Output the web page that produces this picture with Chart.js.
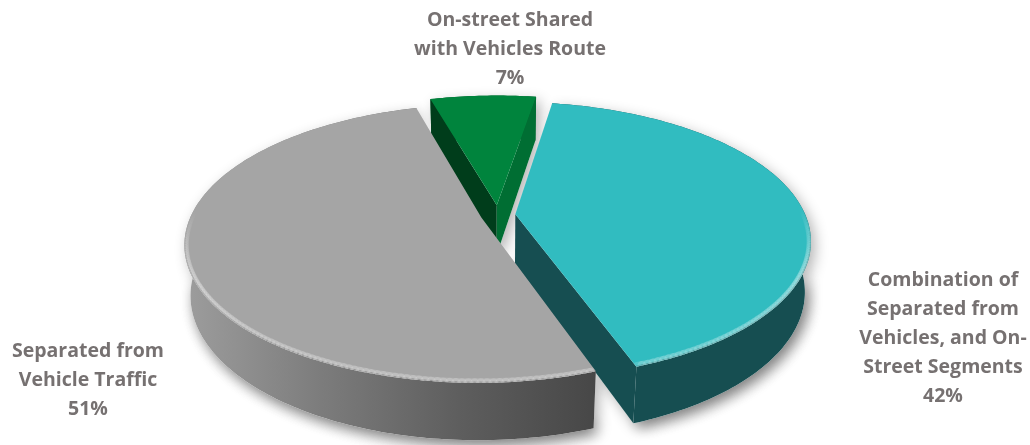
<!DOCTYPE html>
<html>
<head>
<meta charset="utf-8">
<script src="https://cdn.jsdelivr.net/npm/chart.js@4.4.1/dist/chart.umd.min.js"></script>
<style>
  html, body { margin: 0; padding: 0; background: #ffffff; overflow: hidden; }
  #wrap { width: 1030px; height: 445px; }
</style>
</head>
<body>
<div id="wrap"><canvas id="c" width="1030" height="445"></canvas></div>
<script>
// Route types (line breaks are where the label wraps)
const categories = [
  'Separated from\nVehicle Traffic',
  'On-street Shared\nwith Vehicles Route',
  'Combination of\nSeparated from\nVehicles, and On-\nStreet Segments'
];
// Share of routes, percent
const shares = [51, 7, 42];

// Colours: top face, outer wall, start radial wall, end radial wall
const topColors  = ['#a5a5a5', '#00843d', '#31bcc0'];
const wallColors = [['#9d9d9d', '#7c7c7c', '#5e5e5e', '#474747'], ['#005c2b'], ['#164e51']];
const startWallColors = ['#5a5a5a', '#003d1b', '#164e51'];
const endWallColors   = ['#5a5a5a', '#006e33', '#164e51'];
const explode = [12, 15, 12];

// Label anchors: centre x, middle of first line
const labelAnchors = [[88, 351], [510, 20], [943, 280]];
const LINE_H = 29;
const LABEL_FONT = 'bold 19.5px "Open Sans"';
const LABEL_COLOR = '#767171';

// Perspective view of the pie disc (units of one pie radius)
const VIEW = { scale: 1378, dist: 4.75, sinT: 0.46, cosT: 0.888, depth: 0.197 };

function project(cx, cy, u, v, h) {
  const z = VIEW.dist - v * VIEW.cosT - h * VIEW.sinT;
  const yd = v * VIEW.sinT - h * VIEW.cosT;
  return [cx + VIEW.scale * u / z, cy + VIEW.scale * yd / z];
}

function poly(ctx, pts) {
  ctx.beginPath();
  ctx.moveTo(pts[0][0], pts[0][1]);
  for (let i = 1; i < pts.length; i++) ctx.lineTo(pts[i][0], pts[i][1]);
  ctx.closePath();
}

const pie3d = {
  id: 'pie3d',
  beforeDatasetsDraw(chart) {
    const ctx = chart.ctx;
    const meta = chart.getDatasetMeta(0);
    const T = VIEW.depth;
    const slices = meta.data.map((el, i) => {
      const a0 = el.startAngle, a1 = el.endAngle, mid = (a0 + a1) / 2;
      const e = (el.options.offset || 0) / el.outerRadius;
      const ox = e * Math.cos(mid), oy = e * Math.sin(mid);
      const n = Math.max(6, Math.ceil((a1 - a0) * 180 / Math.PI));
      const angles = [];
      for (let k = 0; k <= n; k++) angles.push(a0 + (a1 - a0) * k / n);
      const rim = (h) => angles.map(t => project(el.x, el.y, ox + Math.cos(t), oy + Math.sin(t), h));
      return {
        i, a0, a1, ox, oy, angles,
        topRim: rim(0), botRim: rim(-T),
        apexTop: project(el.x, el.y, ox, oy, 0),
        apexBot: project(el.x, el.y, ox, oy, -T),
        order: oy + 0.5 * Math.sin(mid)
      };
    });

    // camera position in disc space
    const cam = [0, VIEW.dist * VIEW.cosT, VIEW.dist * VIEW.sinT];
    const facing = (s, ang, normalAng) => {
      const pu = s.ox + 0.5 * Math.cos(ang), pv = s.oy + 0.5 * Math.sin(ang);
      const nx = Math.cos(normalAng), ny = Math.sin(normalAng);
      return nx * (cam[0] - pu) + ny * (cam[1] - pv) > 0;
    };

    // soft shadow under the pieces
    ctx.save();
    ctx.shadowColor = 'rgba(0,0,0,0.30)';
    ctx.shadowBlur = 14;
    ctx.shadowOffsetX = 4;
    ctx.shadowOffsetY = 5;
    ctx.fillStyle = '#ffffff';
    slices.forEach(s => {
      poly(ctx, [s.apexBot, ...s.botRim]);
      ctx.fill();
      poly(ctx, [...s.topRim, ...s.botRim.slice().reverse()]);
      ctx.fill();
    });
    ctx.restore();

    slices.slice().sort((p, q) => p.order - q.order).forEach(s => {
      const i = s.i;
      // outer curved wall
      const wc = wallColors[i];
      let fill = wc[0];
      if (wc.length > 1) {
        const xs = s.topRim.map(p => p[0]);
        const g = ctx.createLinearGradient(Math.min(...xs), 0, Math.max(...xs), 0);
        wc.forEach((c, k) => g.addColorStop(k / (wc.length - 1), c));
        fill = g;
      }
      ctx.fillStyle = fill;
      poly(ctx, [...s.topRim, ...s.botRim.slice().reverse()]);
      ctx.fill();

      // radial walls facing the viewer
      const r0t = s.topRim[0], r0b = s.botRim[0];
      const r1t = s.topRim[s.topRim.length - 1], r1b = s.botRim[s.botRim.length - 1];
      if (facing(s, s.a0, s.a0 - Math.PI / 2)) {
        ctx.fillStyle = startWallColors[i];
        poly(ctx, [s.apexTop, r0t, r0b, s.apexBot]);
        ctx.fill();
      }
      if (facing(s, s.a1, s.a1 + Math.PI / 2)) {
        ctx.fillStyle = endWallColors[i];
        poly(ctx, [s.apexTop, r1t, r1b, s.apexBot]);
        ctx.fill();
      }

      // top face
      ctx.fillStyle = topColors[i];
      poly(ctx, [s.apexTop, ...s.topRim]);
      ctx.fill();

      // rounded bevel along the front part of the rim
      ctx.save();
      poly(ctx, [s.apexTop, ...s.topRim]);
      ctx.clip();
      ctx.lineCap = 'round';
      for (let k = 1; k < s.topRim.length; k++) {
        const t = (s.angles[k - 1] + s.angles[k]) / 2;
        const f = Math.sin(t) + 0.05;
        if (f <= 0) continue;
        const w = Math.min(1, f * 2);
        ctx.beginPath();
        ctx.moveTo(s.topRim[k - 1][0], s.topRim[k - 1][1]);
        ctx.lineTo(s.topRim[k][0], s.topRim[k][1]);
        ctx.strokeStyle = 'rgba(255,255,255,' + (0.16 * w).toFixed(3) + ')';
        ctx.lineWidth = 9;
        ctx.stroke();
        ctx.strokeStyle = 'rgba(0,0,0,' + (0.12 * w).toFixed(3) + ')';
        ctx.lineWidth = 2.5;
        ctx.stroke();
      }
      ctx.restore();
    });
    return false;
  },
  afterDraw(chart) {
    const ctx = chart.ctx;
    const data = chart.data.datasets[0].data;
    const total = data.reduce((a, b) => a + b, 0);
    ctx.save();
    ctx.font = LABEL_FONT;
    ctx.fillStyle = LABEL_COLOR;
    ctx.textAlign = 'center';
    ctx.textBaseline = 'middle';
    chart.data.labels.forEach((lab, i) => {
      const lines = lab.split('\n').concat([Math.round(data[i] / total * 100) + '%']);
      const [x, y] = labelAnchors[i];
      lines.forEach((ln, k) => ctx.fillText(ln, x, y + k * LINE_H));
    });
    ctx.restore();
  }
};

new Chart(document.getElementById('c'), {
  type: 'pie',
  data: {
    labels: categories,
    datasets: [{
      data: shares,
      backgroundColor: topColors,
      borderWidth: 0,
      offset: explode
    }]
  },
  options: {
    responsive: false,
    animation: false,
    rotation: 160.5,
    radius: 200,
    layout: { padding: { left: 0, right: 34, top: 0, bottom: 15 } },
    plugins: { legend: { display: false }, tooltip: { enabled: false } }
  },
  plugins: [pie3d]
});
</script>
</body>
</html>
